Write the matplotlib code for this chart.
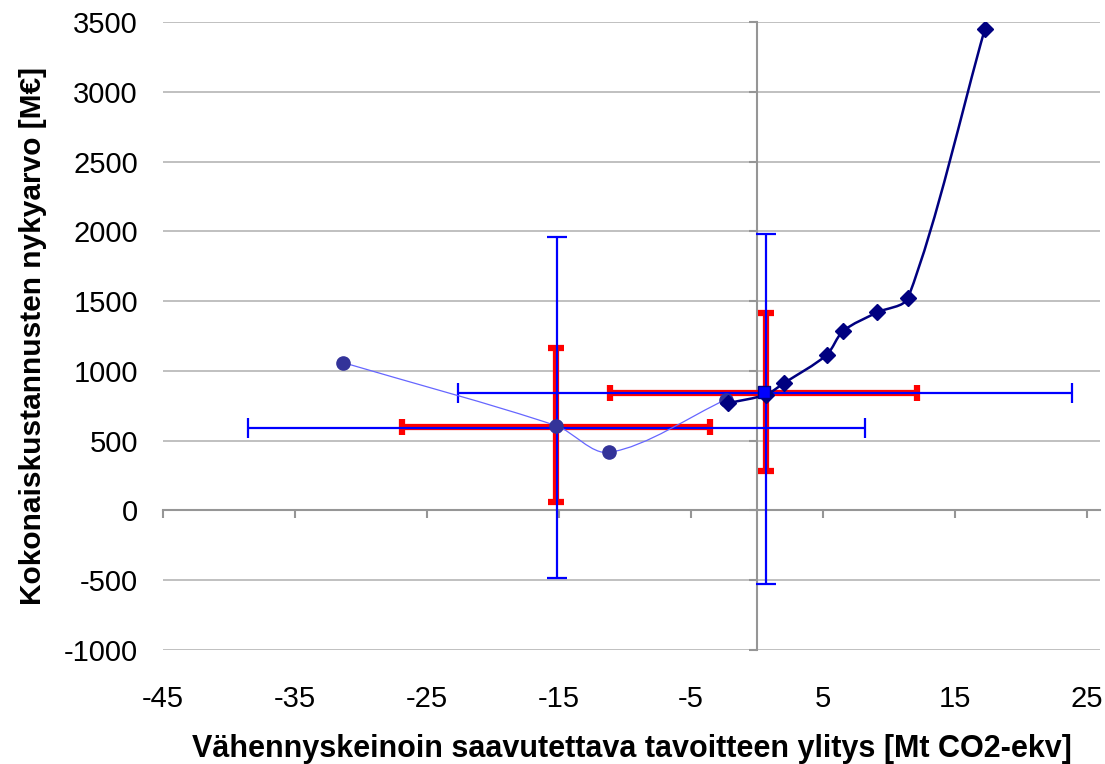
import matplotlib
matplotlib.use('Agg')
import matplotlib.pyplot as plt
import numpy as np
from matplotlib.path import Path
from matplotlib.patches import PathPatch

plt.rcParams.update({
    'font.family': ['Liberation Sans', 'DejaVu Sans'],
    'font.size': 21,
    'axes.unicode_minus': False,
})

# --- data ---
navy_x = [-2.17, 0.68, 2.05, 5.28, 6.54, 9.11, 11.46, 17.27]
navy_y = [769, 830, 912, 1114, 1286, 1419, 1524, 3448]

circ_x = [-31.34, -15.2, -11.19, -2.37]
circ_y = [1059, 607, 416, 793]

sq_x = [0.55]
sq_y = [852]

# error bar groups: centre, x-range, y-range
red_cx = [-15.2, 0.66]
red_cy = [600, 845]
red_xlo = [-26.9, -11.14]
red_xhi = [-3.56, 12.14]
red_ylo = [64, 281]
red_yhi = [1166, 1412]

blue_cx = [-15.17, 0.7]
blue_cy = [593, 842]
blue_xlo = [-38.54, -22.67]
blue_xhi = [8.18, 23.86]
blue_ylo = [-481, -524]
blue_yhi = [1959, 1984]

xticks = [-45, -35, -25, -15, -5, 5, 15, 25]
yticks = [-1000, -500, 0, 500, 1000, 1500, 2000, 2500, 3000, 3500]
XMIN, XMAX = -45, 26.0
YMIN, YMAX = -1000, 3500

GRID = '#C0C0C0'
AXIS = '#969696'
RECT = [163 / 1105, 114 / 764, 937 / 1105, 628 / 764]


def smooth_path(xs, ys, sx, sy, k=0.3):
    # Excel-like smoothed line: cubic Bezier, handles scaled by segment length
    pts = np.column_stack([np.asarray(xs) * sx, np.asarray(ys) * sy]).astype(float)
    n = len(pts)

    def tangent(i):
        a = pts[max(i - 1, 0)]
        b = pts[min(i + 1, n - 1)]
        d = b - a
        return d / np.hypot(*d)

    verts = [pts[0]]
    codes = [Path.MOVETO]
    for i in range(n - 1):
        p1, p2 = pts[i], pts[i + 1]
        seg = np.hypot(*(p2 - p1))
        c1 = p1 + tangent(i) * seg * k
        c2 = p2 - tangent(i + 1) * seg * k
        verts += [c1, c2, p2]
        codes += [Path.CURVE4] * 3
    verts = np.array(verts) / np.array([sx, sy])
    return Path(verts, codes)


fig = plt.figure(figsize=(11.05, 7.64), dpi=100)

# axes lines crossing at (0, 0), drawn behind the data
ax0 = fig.add_axes(RECT)
ax0.set_xlim(XMIN, XMAX)
ax0.set_ylim(YMIN, YMAX)
ax0.set_xticks(xticks)
ax0.set_yticks(yticks)
ax0.yaxis.grid(True, color=GRID, linewidth=1.4)
ax0.set_axisbelow(True)
for side in ['top', 'right']:
    ax0.spines[side].set_visible(False)
for side in ['left', 'bottom']:
    ax0.spines[side].set_position(('data', 0))
    ax0.spines[side].set_color(AXIS)
    ax0.spines[side].set_linewidth(1.5)
ax0.tick_params(axis='both', direction='out', length=6, width=1.5, color=AXIS,
                labelleft=False, labelbottom=False)

ax = fig.add_axes(RECT, sharex=ax0, sharey=ax0)
ax.patch.set_visible(False)
for s in ax.spines.values():
    s.set_visible(False)
ax.tick_params(axis='both', length=0)
ax.tick_params(axis='y', pad=18)
ax.tick_params(axis='x', pad=25)

sx = RECT[2] * 1105 / (XMAX - XMIN)
sy = RECT[3] * 764 / (YMAX - YMIN)

# red thick error bars
rx = np.array(red_cx); ry = np.array(red_cy)
ax.errorbar(rx, ry,
            xerr=[rx - np.array(red_xlo), np.array(red_xhi) - rx],
            yerr=[ry - np.array(red_ylo), np.array(red_yhi) - ry],
            fmt='none', ecolor='#FF0000', elinewidth=4.5, capsize=6, capthick=4.5,
            zorder=3)
# blue thin error bars
bx = np.array(blue_cx); by = np.array(blue_cy)
ax.errorbar(bx, by,
            xerr=[bx - np.array(blue_xlo), np.array(blue_xhi) - bx],
            yerr=[by - np.array(blue_ylo), np.array(blue_yhi) - by],
            fmt='none', ecolor='#0000FF', elinewidth=1.6, capsize=7, capthick=1.6,
            zorder=4)

# smoothed series
ax.add_patch(PathPatch(smooth_path(circ_x, circ_y, sx, sy), facecolor='none',
                       edgecolor='#6666FF', linewidth=0.9, zorder=5))
ax.plot(circ_x, circ_y, linestyle='none', marker='o', markersize=9.5,
        color='#333399', zorder=6)
ax.add_patch(PathPatch(smooth_path(navy_x, navy_y, sx, sy), facecolor='none',
                       edgecolor='#000080', linewidth=1.8, zorder=5))
ax.plot(navy_x, navy_y, linestyle='none', marker='D', markersize=8,
        color='#000080', zorder=6)
ax.plot(sq_x, sq_y, linestyle='none', marker='s', markersize=8,
        markerfacecolor='#0000FF', markeredgecolor='#000080', markeredgewidth=1,
        zorder=7)

ax.set_xlabel('Vähennyskeinoin saavutettava tavoitteen ylitys [Mt CO2-ekv]',
              fontweight='bold', fontsize=22, labelpad=15)
ax.set_ylabel('Kokonaiskustannusten nykyarvo [M€]',
              fontweight='bold', fontsize=21.5, labelpad=12)

fig.savefig('out.png', dpi=100)
